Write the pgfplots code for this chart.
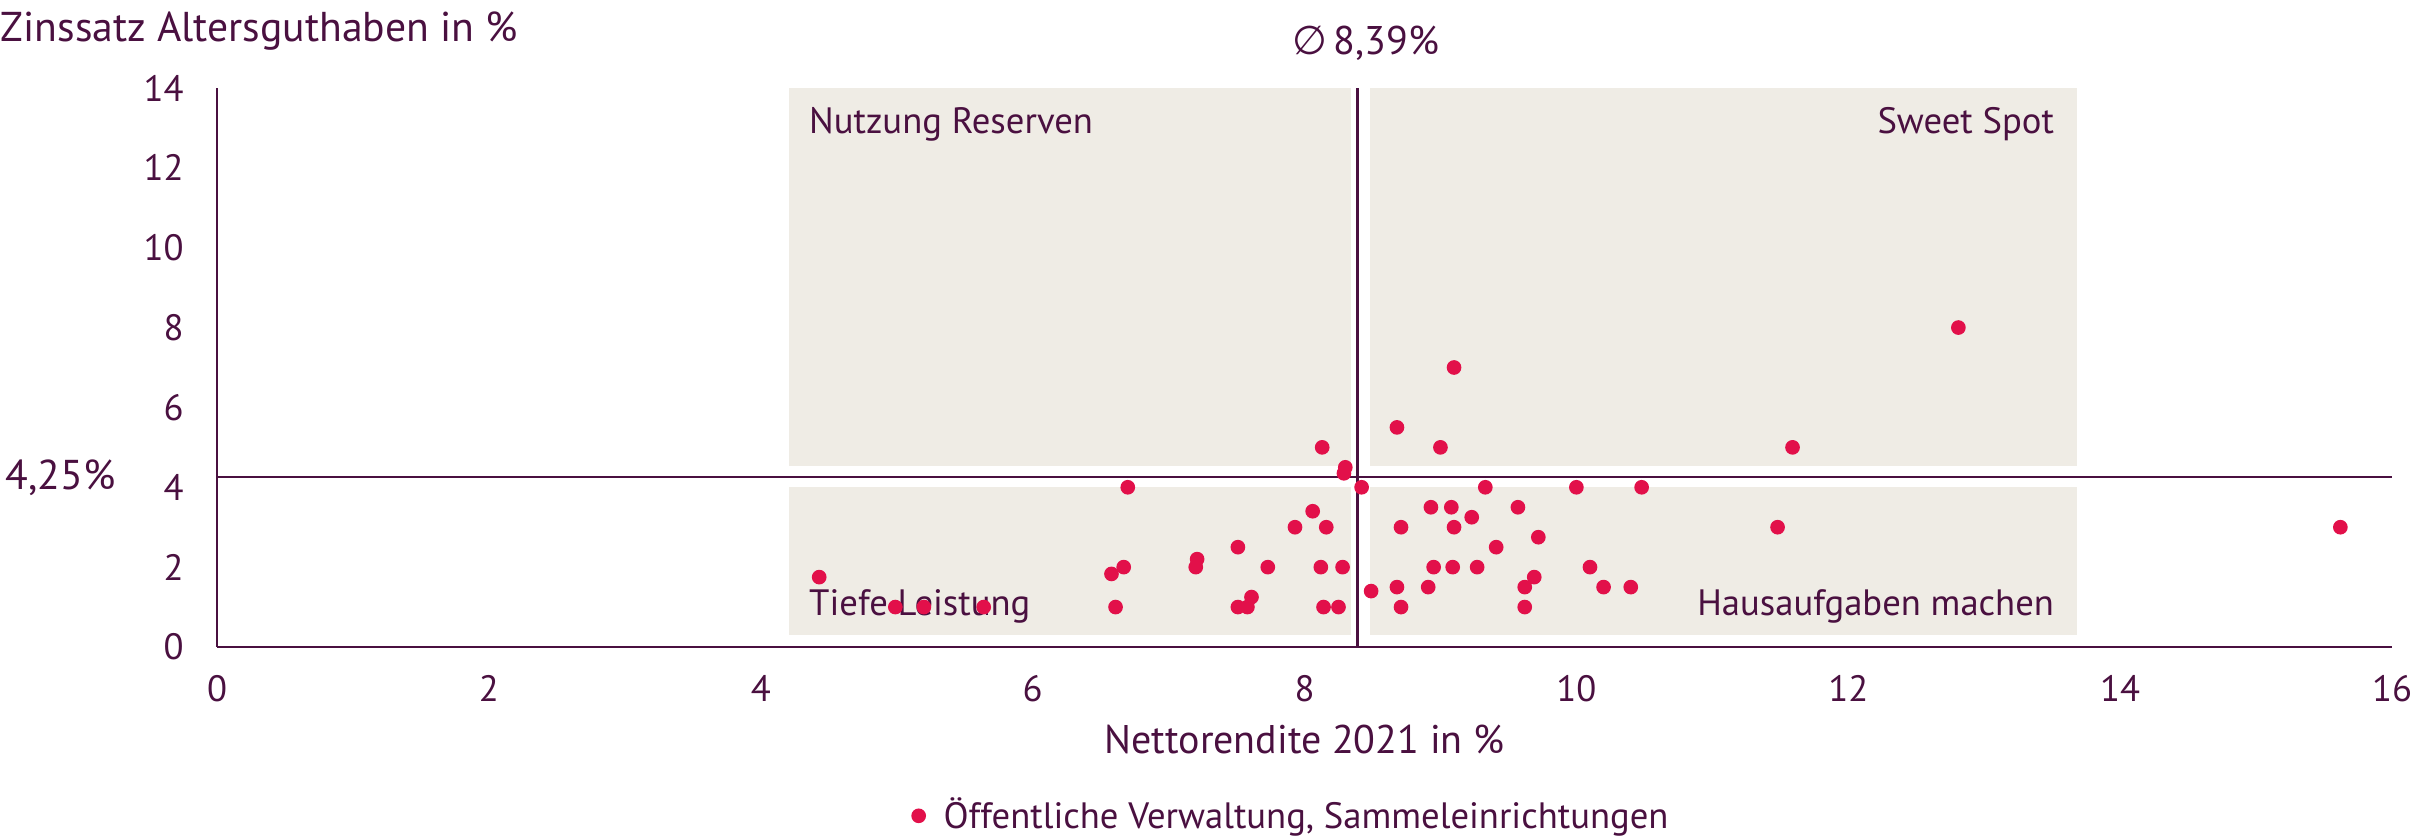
\documentclass[border=0pt]{standalone}
\usepackage{pgfplots}
\pgfplotsset{compat=1.18}
\usepackage{fontspec}
\setmainfont{PT Sans}
\newfontfamily\symfont{DejaVu Sans}
\definecolor{plum}{HTML}{4A1040}
\definecolor{dotred}{HTML}{E2104A}
\definecolor{boxgray}{HTML}{EFECE5}

\begin{document}
\begin{tikzpicture}
\begin{axis}[
  scale only axis, width=652.5pt, height=167.7pt,
  xmin=0, xmax=16, ymin=0, ymax=14,
  xtick={0,2,...,16}, ytick={0,2,...,14},
  axis x line=bottom, axis y line=left,
  axis line style={-, draw=plum, line width=0.7pt},
  major tick length=0pt,
  tick label style={font=\fontsize{11}{13}\selectfont, text=plum},
  xticklabel style={yshift=-5pt},
  yticklabel style={xshift=-6.5pt},
  /pgf/number format/assume math mode=true,
  clip=false,
  legend style={at={(0.495,-0.302)}, anchor=center, draw=none, fill=none,
                font=\fontsize{11}{13}\selectfont, text=plum},
]
  % quadrant boxes
  \addplot[draw=none, fill=boxgray, forget plot] coordinates {(4.21,4.54) (8.34,4.54) (8.34,14) (4.21,14)};
  \addplot[draw=none, fill=boxgray, forget plot] coordinates {(8.48,4.54) (13.68,4.54) (13.68,14) (8.48,14)};
  \addplot[draw=none, fill=boxgray, forget plot] coordinates {(4.21,0.3) (8.34,0.3) (8.34,4.0) (4.21,4.0)};
  \addplot[draw=none, fill=boxgray, forget plot] coordinates {(8.48,0.3) (13.68,0.3) (13.68,4.0) (8.48,4.0)};
  % averages
  \addplot[plum, line width=0.7pt, forget plot] coordinates {(0,4.25) (16,4.25)};
  \addplot[plum, line width=0.7pt, forget plot] coordinates {(8.39,0) (8.39,14)};

  \node[anchor=base west, text=plum, font=\fontsize{11}{13}\selectfont] at (axis cs:4.27,12.87) {Nutzung Reserven};
  \node[anchor=base east, text=plum, font=\fontsize{11}{13}\selectfont] at (axis cs:13.6,12.87) {Sweet Spot};
  \node[anchor=base west, text=plum, font=\fontsize{11}{13}\selectfont] at (axis cs:4.27,0.78) {Tiefe Leistung};
  \node[anchor=base east, text=plum, font=\fontsize{11}{13}\selectfont] at (axis cs:13.6,0.78) {Hausaufgaben machen};

  \addplot[only marks, mark=*, mark size=2pt, color=dotred] coordinates {
    (4.43,1.75) (4.99,1.0) (5.20,1.0) (5.64,1.0)
    (6.58,1.83) (6.67,2.0) (6.61,1.0) (6.70,4.0)
    (7.21,2.2) (7.20,2.0) (7.51,2.5) (7.51,1.0) (7.58,1.0) (7.61,1.25)
    (7.73,2.0) (7.93,3.0) (8.06,3.4) (8.13,5.0) (8.16,3.0) (8.12,2.0)
    (8.28,2.0) (8.14,1.0) (8.25,1.0) (8.30,4.5) (8.29,4.35) (8.42,4.0)
    (8.49,1.4) (8.68,5.5) (8.68,1.5) (8.71,3.0) (8.71,1.0) (8.91,1.5)
    (8.93,3.5) (8.95,2.0) (9.00,5.0) (9.08,3.5) (9.10,3.0) (9.09,2.0)
    (9.10,7.0) (9.23,3.25) (9.27,2.0) (9.33,4.0) (9.41,2.5) (9.57,3.5)
    (9.62,1.5) (9.62,1.0) (9.69,1.75) (9.72,2.75) (10.00,4.0) (10.10,2.0)
    (10.20,1.5) (10.40,1.5) (10.48,4.0) (11.48,3.0) (11.59,5.0)
    (12.81,8.0) (15.62,3.0)
  };
  \addlegendentry{\hspace{3.5pt}Öffentliche Verwaltung, Sammeleinrichtungen}

  \coordinate (SW) at (rel axis cs:0,0);
  \coordinate (NE) at (rel axis cs:1,1);
  \node[anchor=base, text=plum, font=\fontsize{12}{14}\selectfont] at ([yshift=177.6pt]axis cs:8.45,0) {{\symfont ∅}\,8,39\%};
  \node[anchor=east, text=plum, font=\fontsize{12.5}{14}\selectfont] at ([xshift=-27pt]axis cs:0,4.25) {4,25\%};
  \node[anchor=center, text=plum, font=\fontsize{12}{14}\selectfont] at ([yshift=-27.6pt]rel axis cs:0.5,0) {Nettorendite 2021 in \%};
\end{axis}
\node[anchor=base west, inner sep=0pt, text=plum, font=\fontsize{12.5}{14}\selectfont] at ([xshift=-65pt, yshift=181.7pt]SW) {Zinssatz Altersguthaben in \%};
\pgfresetboundingbox
\path ([xshift=-65.1pt, yshift=-56.7pt]SW) rectangle ([xshift=6.9pt, yshift=26.4pt]NE);
\end{tikzpicture}
\end{document}
